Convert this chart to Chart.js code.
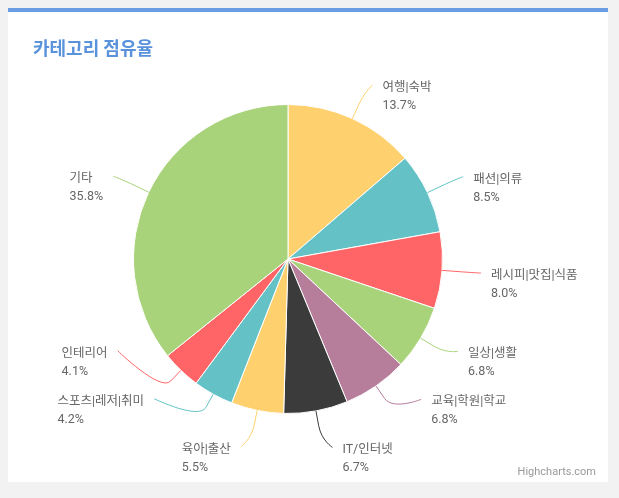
<!DOCTYPE html>
<html>
<head>
<meta charset="utf-8">
<script src="https://cdn.jsdelivr.net/npm/chart.js@4"></script>
<style>
  html, body { margin: 0; padding: 0; background: #f2f2f2; }
  body { width: 619px; height: 498px; position: relative; overflow: hidden; font-family: Roboto, "Noto Sans CJK KR", sans-serif; }
  #card { position: absolute; left: 8px; top: 8px; width: 600px; height: 470px; background: #fff; border-top: 4px solid #6a9de3; }
  #title { position: absolute; left: 25px; top: 22px; font-size: 18px; font-weight: bold; color: #5a93dc; font-family: "Noto Sans CJK KR", sans-serif; }
  #credit { position: absolute; right: 12px; bottom: 4px; font-size: 11px; color: #999; }
  #wrap { position: absolute; left: 0; top: 0; width: 600px; height: 470px; }
</style>
</head>
<body>
<div id="card">
  <div id="wrap"><canvas id="pie"></canvas></div>
  <div id="title">카테고리 점유율</div>
  <div id="credit">Highcharts.com</div>
</div>
<script>
(() => {
  const categories = ['여행|숙박', '패션|의류', '레시피|맛집|식품', '일상|생활', '교육|학원|학교', 'IT/인터넷', '육아|출산', '스포츠|레저|취미', '인테리어', '기타'];
  const shares = [13.7, 8.5, 8.0, 6.8, 6.8, 6.7, 5.5, 4.2, 4.1, 35.8];
  const colors = ['#fed16e', '#64c2c6', '#ff6566', '#a9d37a', '#b67e9b', '#3b3b3b', '#fed16e', '#64c2c6', '#ff6566', '#a9d37a'];

  // labels outside the pie with soft connectors
  const outsideLabels = {
    id: 'outsideLabels',
    afterDatasetsDraw(chart) {
      const ctx = chart.ctx;
      const arcs = chart.getDatasetMeta(0).data;
      const gap = 48;
      let items = arcs.map((arc, i) => {
        const p = arc.getProps(['x', 'y', 'startAngle', 'endAngle', 'outerRadius'], true);
        const mid = (p.startAngle + p.endAngle) / 2;
        const cos = Math.cos(mid), sin = Math.sin(mid);
        const r = p.outerRadius;
        return {
          i, cx: p.x, cy: p.y, r, cos, sin,
          side: cos >= 0 ? 1 : -1,
          y0: p.y + (r + 37) * sin
        };
      });
      [1, -1].forEach(side => {
        const list = items.filter(it => it.side === side).sort((a, b) => b.y0 - a.y0);
        let prev = Infinity;
        list.forEach(it => {
          it.y = Math.min(it.y0, prev - gap);
          prev = it.y;
        });
      });
      ctx.save();
      items.forEach(it => {
        const Rx = it.r + 39;
        const dy = it.y - it.cy;
        const dx = Math.sqrt(Math.max(Rx * Rx - dy * dy, 0));
        const ex = it.cx + it.side * Math.max(dx, 20);
        const ey = it.y;
        const edgeX = it.cx + it.r * it.cos, edgeY = it.cy + it.r * it.sin;
        const bx = it.cx + (it.r + 15) * it.cos, by = it.cy + (it.r + 15) * it.sin;
        ctx.beginPath();
        ctx.moveTo(ex, ey);
        ctx.bezierCurveTo(ex, ey, 2 * bx - edgeX, 2 * by - edgeY, bx, by);
        ctx.lineTo(edgeX, edgeY);
        ctx.strokeStyle = colors[it.i];
        ctx.lineWidth = 1;
        ctx.stroke();

        const name = categories[it.i];
        const pct = shares[it.i].toFixed(1) + '%';
        ctx.fillStyle = '#666';
        ctx.font = '12.5px Roboto, "Noto Sans CJK KR", sans-serif';
        ctx.textBaseline = 'middle';
        ctx.textAlign = 'left';
        let tx = ex + it.side * 10;
        if (it.side < 0) {
          const w = Math.max(ctx.measureText(name).width, ctx.measureText(pct).width);
          tx -= w;
        }
        ctx.fillText(name, tx, ey + 3);
        ctx.fillText(pct, tx, ey + 21);
      });
      ctx.restore();
    }
  };

  new Chart(document.getElementById('pie'), {
    type: 'pie',
    data: {
      labels: categories,
      datasets: [{
        data: shares,
        backgroundColor: colors,
        borderColor: '#ffffff',
        borderWidth: 1,
        hoverOffset: 0
      }]
    },
    options: {
      responsive: true,
      maintainAspectRatio: false,
      animation: false,
      layout: { padding: { left: 125, right: 165, top: 92, bottom: 68 } },
      plugins: {
        legend: { display: false },
        tooltip: { enabled: false },
        title: { display: false }
      }
    },
    plugins: [outsideLabels]
  });
})();
</script>
</body>
</html>
